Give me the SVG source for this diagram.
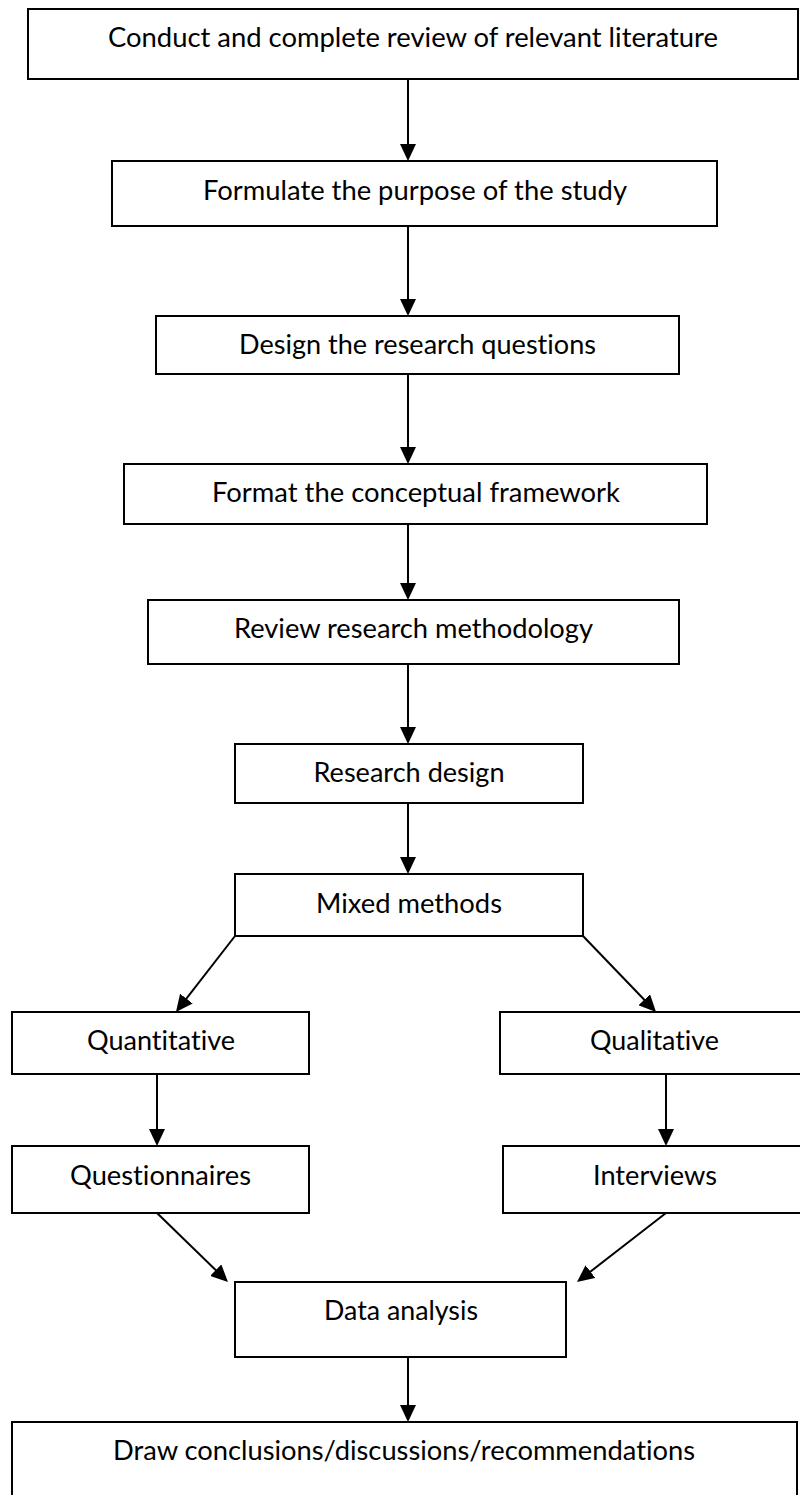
<svg xmlns="http://www.w3.org/2000/svg" width="800" height="1495" viewBox="0 0 800 1495">
<style>
.box{fill:#fff;stroke:#000;stroke-width:2}
.lbl{font-family:Lato,"Open Sans","Liberation Sans",sans-serif;font-size:26px;fill:#000;text-anchor:middle;font-variant-ligatures:none}
.con{stroke:#000;stroke-width:2;fill:none;marker-end:url(#ah)}
</style>
<defs>
<marker id="ah" markerUnits="userSpaceOnUse" markerWidth="18" markerHeight="16" refX="7" refY="8" orient="auto" viewBox="0 0 18 16">
<path d="M0,0 L17,8 L0,16 z" fill="#000"/>
</marker>
</defs>
<rect width="800" height="1495" fill="#fff"/>
<g id="connectors">
<line class="con" x1="408" y1="79" x2="408" y2="151"/>
<line class="con" x1="408" y1="226" x2="408" y2="306"/>
<line class="con" x1="408" y1="374" x2="408" y2="454"/>
<line class="con" x1="408" y1="524" x2="408" y2="590"/>
<line class="con" x1="408" y1="664" x2="408" y2="734"/>
<line class="con" x1="408" y1="803" x2="408" y2="864"/>
<line class="con" x1="235" y1="936" x2="182.1" y2="1004.1"/>
<line class="con" x1="583" y1="936" x2="649.1" y2="1004.8"/>
<line class="con" x1="157" y1="1074" x2="157" y2="1136"/>
<line class="con" x1="666" y1="1074" x2="666" y2="1136"/>
<line class="con" x1="157" y1="1213" x2="220.8" y2="1275"/>
<line class="con" x1="666" y1="1213" x2="584.9" y2="1275.9"/>
<line class="con" x1="408" y1="1357" x2="408" y2="1412"/>
</g>
<g id="n1"><rect class="box" x="28" y="9" width="770" height="70"/><text class="lbl" x="413" y="47" textLength="610" lengthAdjust="spacingAndGlyphs">Conduct and complete review of relevant literature</text></g>
<g id="n2"><rect class="box" x="112" y="161" width="605" height="65"/><text class="lbl" x="415" y="200" textLength="424" lengthAdjust="spacingAndGlyphs">Formulate the purpose of the study</text></g>
<g id="n3"><rect class="box" x="156" y="316" width="523" height="58"/><text class="lbl" x="417.5" y="354" textLength="357" lengthAdjust="spacingAndGlyphs">Design the research questions</text></g>
<g id="n4"><rect class="box" x="124" y="464" width="583" height="60"/><text class="lbl" x="416" y="502" textLength="408" lengthAdjust="spacingAndGlyphs">Format the conceptual framework</text></g>
<g id="n5"><rect class="box" x="148" y="600" width="531" height="64"/><text class="lbl" x="413.5" y="638" textLength="359" lengthAdjust="spacingAndGlyphs">Review research methodology</text></g>
<g id="n6"><rect class="box" x="235" y="744" width="348" height="59"/><text class="lbl" x="409" y="782" textLength="191" lengthAdjust="spacingAndGlyphs">Research design</text></g>
<g id="n7"><rect class="box" x="235" y="874" width="348" height="62"/><text class="lbl" x="409" y="913" textLength="186" lengthAdjust="spacingAndGlyphs">Mixed methods</text></g>
<g id="n8"><rect class="box" x="12" y="1012" width="297" height="62"/><text class="lbl" x="161" y="1050" textLength="148" lengthAdjust="spacingAndGlyphs">Quantitative</text></g>
<g id="n9"><rect class="box" x="500" y="1012" width="310" height="62"/><text class="lbl" x="654.5" y="1050" textLength="129" lengthAdjust="spacingAndGlyphs">Qualitative</text></g>
<g id="n10"><rect class="box" x="12" y="1146" width="297" height="67"/><text class="lbl" x="160.5" y="1185" textLength="181" lengthAdjust="spacingAndGlyphs">Questionnaires</text></g>
<g id="n11"><rect class="box" x="503" y="1146" width="307" height="67"/><text class="lbl" x="655" y="1185" textLength="124" lengthAdjust="spacingAndGlyphs">Interviews</text></g>
<g id="n12"><rect class="box" x="235" y="1282" width="331" height="75"/><text class="lbl" x="401" y="1320" textLength="154" lengthAdjust="spacingAndGlyphs">Data analysis</text></g>
<g id="n13"><rect class="box" x="12" y="1422" width="785" height="80"/><text class="lbl" x="404" y="1460" textLength="582" lengthAdjust="spacingAndGlyphs">Draw conclusions/discussions/recommendations</text></g>
</svg>
